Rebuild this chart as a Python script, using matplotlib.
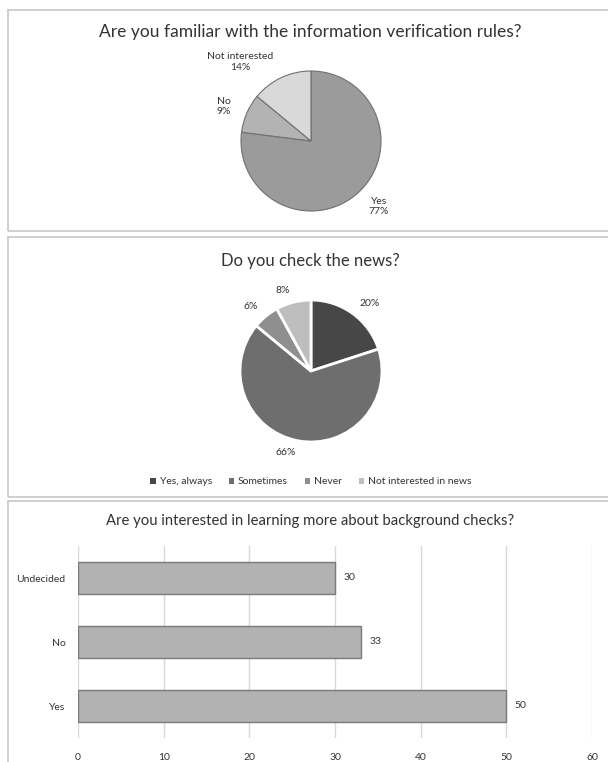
import matplotlib.pyplot as plt
from matplotlib.patches import Rectangle, Patch

# survey answers
q1_title = "Are you familiar with the information verification rules?"
q1_labels = ["Yes", "No", "Not interested"]
q1_values = [77, 9, 14]

q2_title = "Do you check the news?"
q2_labels = ["Yes, always", "Sometimes", "Never", "Not interested in news"]
q2_values = [20, 66, 6, 8]

q3_title = "Are you interested in learning more about background checks?"
q3_labels = ["Yes", "No", "Undecided"]
q3_values = [50, 33, 30]
q3_ticks = [0, 10, 20, 30, 40, 50, 60]

plt.rcParams['font.family'] = ['Lato', 'DejaVu Sans']
txt = '#333333'
q2_colors = ['#474747', '#6e6e6e', '#8f8f8f', '#bebebe']

W, H = 608, 762
fig = plt.figure(figsize=(W / 100, H / 100), dpi=100)
fig.patch.set_facecolor('white')


def px(x0, y0, x1, y1):
    # pixel box (top-left origin) -> figure fraction rect
    return [x0 / W, 1 - y1 / H, (x1 - x0) / W, (y1 - y0) / H]


# panel frames
for y0, y1 in [(10, 231), (237, 497), (501, 770)]:
    fig.patches.append(Rectangle((8 / W, 1 - y1 / H), (620 - 8) / W, (y1 - y0) / H,
                                 transform=fig.transFigure, facecolor='none',
                                 edgecolor='#cccccc', lw=1.3, zorder=-1))

# ---- pie 1
ax1 = fig.add_axes(px(241, 71, 381, 211))
ax1.pie(q1_values, labels=[f"{l}\n{v}%" for l, v in zip(q1_labels, q1_values)],
        colors=['#9b9b9b', '#b3b3b3', '#d9d9d9'], startangle=90, counterclock=False,
        labeldistance=1.25,
        wedgeprops=dict(edgecolor='#707070', linewidth=0.8),
        textprops=dict(fontsize=7.5, color=txt, multialignment='center'))
ax1.set_xlim(-1, 1)
ax1.set_ylim(-1, 1)
fig.text(310 / W, 1 - 32 / H, q1_title, ha='center', va='center', fontsize=12.5, color=txt)

# ---- pie 2
ax2 = fig.add_axes(px(240, 300, 382, 442))
wedges, _ = ax2.pie(q2_values, labels=[f"{v}%" for v in q2_values],
                    colors=q2_colors,
                    startangle=90, counterclock=False, labeldistance=1.17,
                    wedgeprops=dict(edgecolor='white', linewidth=2),
                    textprops=dict(fontsize=7.5, color=txt))
ax2.set_xlim(-1, 1)
ax2.set_ylim(-1, 1)
fig.text(310 / W, 1 - 261 / H, q2_title, ha='center', va='center', fontsize=12, color=txt)
handles = [Patch(facecolor=c, edgecolor='none') for c in q2_colors]
fig.legend(handles, q2_labels, loc='center', bbox_to_anchor=(311 / W, 1 - 482 / H),
           ncol=4, frameon=False, fontsize=7.5, handlelength=0.5, handleheight=0.5,
           handletextpad=0.4, columnspacing=1.6, labelcolor=txt)

# ---- bars
ax3 = fig.add_axes(px(78, 546, 592, 738))
ypos = range(len(q3_labels))
ax3.barh(ypos, q3_values, height=0.5, color='#b2b2b2', edgecolor='#7a7a7a', lw=1, zorder=3)
for y, v in zip(ypos, q3_values):
    ax3.text(v + 1, y, str(v), va='center', ha='left', fontsize=7.5, color=txt)
ax3.set_xlim(0, 60)
ax3.set_ylim(-0.5, 2.5)
ax3.set_xticks(q3_ticks)
ax3.set_yticks(list(ypos))
ax3.set_yticklabels(q3_labels)
ax3.tick_params(length=0, labelsize=7.5, labelcolor=txt)
ax3.tick_params(axis='x', pad=11)
ax3.tick_params(axis='y', pad=9)
ax3.grid(True, axis='x', color='#d9d9d9', lw=1, zorder=0)
for s in ax3.spines.values():
    s.set_visible(False)
fig.text(310 / W, 1 - 521 / H, q3_title, ha='center', va='center', fontsize=10.7, color=txt)

plt.savefig('out.png', dpi=100)
